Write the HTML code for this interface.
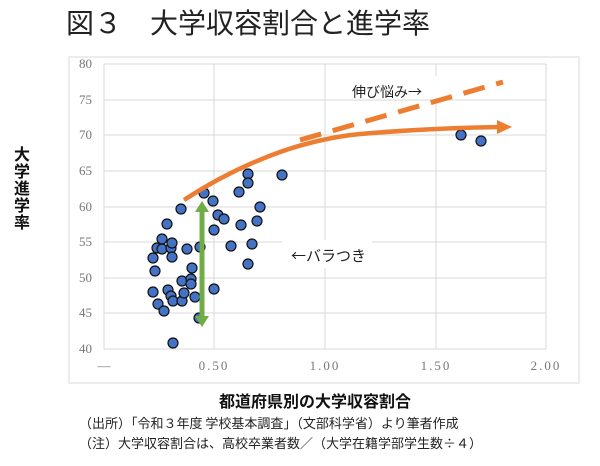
<!DOCTYPE html>
<html><head><meta charset="utf-8"><style>
body{margin:0;width:600px;height:466px;background:#fff;overflow:hidden;font-family:"Liberation Sans","Noto Sans CJK JP",sans-serif;}
.cjk{font-family:"Noto Sans CJK JP",sans-serif;}
.ser{font-family:"Liberation Serif",serif;}
</style></head><body>
<svg width="600" height="466" xmlns="http://www.w3.org/2000/svg" style="position:absolute;left:0;top:0">
<text x="66" y="33" font-size="28" fill="#222">図３　大学収容割合と進学率</text>
<rect x="69" y="57" width="510" height="326" fill="#fff" stroke="#d9d9d9" stroke-width="1"/>
<g stroke="#d9d9d9" stroke-width="1">
<line x1="104" y1="64" x2="546" y2="64"/><line x1="104" y1="100" x2="546" y2="100"/>
<line x1="104" y1="135" x2="546" y2="135"/><line x1="104" y1="171" x2="546" y2="171"/>
<line x1="104" y1="207" x2="546" y2="207"/><line x1="104" y1="242" x2="546" y2="242"/>
<line x1="104" y1="278" x2="546" y2="278"/><line x1="104" y1="313" x2="546" y2="313"/>
<line x1="104" y1="349" x2="546" y2="349"/>
<line x1="104" y1="64" x2="104" y2="349"/><line x1="214" y1="64" x2="214" y2="349"/>
<line x1="325" y1="64" x2="325" y2="349"/><line x1="436" y1="64" x2="436" y2="349"/>
<line x1="546" y1="64" x2="546" y2="349"/>
</g>
<rect x="340" y="76" width="100" height="22" fill="#fff"/>
<rect x="282" y="240" width="90" height="28" fill="#fff"/>
<g class="ser" font-size="13" fill="#777">
<text x="92" y="68" text-anchor="end">80</text><text x="92" y="104" text-anchor="end">75</text>
<text x="92" y="139" text-anchor="end">70</text><text x="92" y="175" text-anchor="end">65</text>
<text x="92" y="211" text-anchor="end">60</text><text x="92" y="246" text-anchor="end">55</text>
<text x="92" y="282" text-anchor="end">50</text><text x="92" y="317" text-anchor="end">45</text>
<text x="92" y="353" text-anchor="end">40</text>
<text x="104" y="370" text-anchor="middle">—</text><text x="214" y="370" text-anchor="middle" letter-spacing="2">0.50</text>
<text x="325" y="370" text-anchor="middle" letter-spacing="2">1.00</text><text x="436" y="370" text-anchor="middle" letter-spacing="2">1.50</text>
<text x="546" y="370" text-anchor="middle" letter-spacing="2">2.00</text>
</g>
<g fill="#4472c4" stroke="#111" stroke-width="1.2">
<circle cx="181" cy="209" r="5"/><circle cx="167" cy="224" r="5"/><circle cx="162" cy="239" r="5"/>
<circle cx="157" cy="248" r="5"/><circle cx="162" cy="249" r="5"/><circle cx="171" cy="248" r="5"/>
<circle cx="172" cy="243" r="5"/><circle cx="172" cy="257" r="5"/><circle cx="153" cy="258" r="5"/>
<circle cx="155" cy="271" r="5"/><circle cx="153" cy="292" r="5"/><circle cx="158" cy="304" r="5"/>
<circle cx="164" cy="311" r="5"/><circle cx="168" cy="290" r="5"/><circle cx="171" cy="296" r="5"/>
<circle cx="173" cy="301" r="5"/><circle cx="182" cy="301" r="5"/><circle cx="184" cy="293" r="5"/>
<circle cx="182" cy="281" r="5"/><circle cx="191" cy="279" r="5"/><circle cx="191" cy="284" r="5"/>
<circle cx="192" cy="268" r="5"/><circle cx="187" cy="249" r="5"/><circle cx="200" cy="247" r="5"/>
<circle cx="195" cy="297" r="5"/><circle cx="199" cy="318" r="5"/><circle cx="173" cy="343" r="5"/>
<circle cx="204" cy="193" r="5"/><circle cx="213" cy="201" r="5"/><circle cx="218" cy="215" r="5"/>
<circle cx="224" cy="219" r="5"/><circle cx="214" cy="230" r="5"/><circle cx="231" cy="246" r="5"/>
<circle cx="214" cy="289" r="5"/><circle cx="239" cy="192" r="5"/><circle cx="241" cy="225" r="5"/>
<circle cx="248" cy="174" r="5"/><circle cx="248" cy="183" r="5"/><circle cx="260" cy="207" r="5"/>
<circle cx="257" cy="221" r="5"/><circle cx="252" cy="244" r="5"/><circle cx="248" cy="264" r="5"/>
<circle cx="282" cy="175" r="5"/><circle cx="461" cy="135" r="5"/><circle cx="481" cy="141" r="5"/>
</g>
<path d="M184 200 Q230 170 280 152 Q320 138 360 134 Q430 128 500 127" fill="none" stroke="#ed7d31" stroke-width="4.5"/>
<polygon points="497,120 512,127 497,134" fill="#ed7d31"/>
<line x1="300" y1="140" x2="503" y2="82" stroke="#ed7d31" stroke-width="5" stroke-dasharray="22,12"/>
<line x1="202" y1="210" x2="202" y2="318" stroke="#70ad47" stroke-width="5"/>
<polygon points="195,212 202,201 209,212" fill="#70ad47"/>
<polygon points="195,316 202,327 209,316" fill="#70ad47"/>
<text class="cjk" x="352" y="97" font-size="14" fill="#222">伸び悩み→</text>
<text class="cjk" x="291" y="261" font-size="15" fill="#222">←バラつき</text>
<g font-size="16" font-weight="bold" fill="#111">
<text x="22" y="160" text-anchor="middle">大</text><text x="22" y="177" text-anchor="middle">学</text>
<text x="22" y="194" text-anchor="middle">進</text><text x="22" y="211" text-anchor="middle">学</text>
<text x="22" y="228" text-anchor="middle">率</text>
</g>
<text x="315" y="407" font-size="16" font-weight="bold" fill="#111" text-anchor="middle">都道府県別の大学収容割合</text>
<text class="cjk" x="79" y="428" font-size="13" fill="#222">（出所）「令和３年度 学校基本調査」（文部科学省）より筆者作成</text>
<text class="cjk" x="79" y="448" font-size="13" fill="#222">（注）大学収容割合は、高校卒業者数／（大学在籍学部学生数÷４）</text>
</svg>
</body></html>
